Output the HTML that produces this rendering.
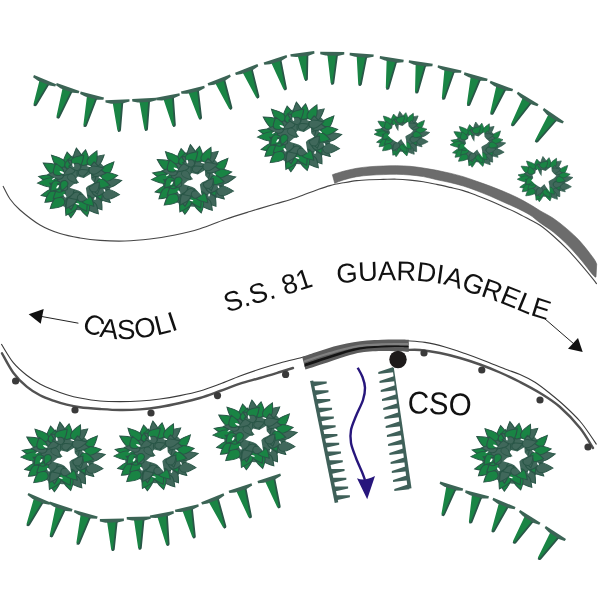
<!DOCTYPE html>
<html><head><meta charset="utf-8"><title>S.S. 81</title>
<style>html,body{margin:0;padding:0;background:#fff}svg{display:block;will-change:transform}</style></head>
<body>
<svg width="600" height="600" viewBox="0 0 600 600">
<rect width="600" height="600" fill="#fff"/>
<defs>
<g id="bb">
<circle r="30" fill="#40685b"/>
<path transform="translate(-19.68,-12.12) rotate(214.2)" d="M0,0 C2.20,-9.61 10.99,-4.54 18.31,0 C10.99,4.54 2.20,9.61 0,0Z" fill="#198444" stroke="#295647" stroke-width="1.0"/>
<path transform="translate(3.30,-19.71) rotate(278.5)" d="M0,0 C2.10,-8.57 10.51,-4.05 17.51,0 C10.51,4.05 2.10,8.57 0,0Z" fill="#198444" stroke="#295647" stroke-width="1.0"/>
<path transform="translate(9.98,-18.98) rotate(317.8)" d="M0,0 C2.23,-9.48 11.15,-4.48 18.58,0 C11.15,4.48 2.23,9.48 0,0Z" fill="#40685b" stroke="#295647" stroke-width="1.0"/>
<path transform="translate(-9.53,-16.33) rotate(262.5)" d="M0,0 C2.20,-9.67 11.01,-4.57 18.35,0 C11.01,4.57 2.20,9.67 0,0Z" fill="#198444" stroke="#295647" stroke-width="1.0"/>
<path transform="translate(-19.24,9.22) rotate(166.0)" d="M0,0 C2.17,-8.61 10.87,-4.07 18.11,0 C10.87,4.07 2.17,8.61 0,0Z" fill="#198444" stroke="#295647" stroke-width="1.0"/>
<path transform="translate(12.46,16.39) rotate(55.4)" d="M0,0 C1.93,-9.77 9.65,-4.62 16.08,0 C9.65,4.62 1.93,9.77 0,0Z" fill="#40685b" stroke="#295647" stroke-width="1.0"/>
<path transform="translate(17.08,9.39) rotate(43.9)" d="M0,0 C2.08,-8.31 10.40,-3.93 17.34,0 C10.40,3.93 2.08,8.31 0,0Z" fill="#40685b" stroke="#295647" stroke-width="1.0"/>
<path transform="translate(-8.03,20.47) rotate(90.9)" d="M0,0 C2.15,-9.88 10.76,-4.67 17.93,0 C10.76,4.67 2.15,9.88 0,0Z" fill="#198444" stroke="#295647" stroke-width="1.0"/>
<path transform="translate(8.20,21.43) rotate(52.0)" d="M0,0 C1.93,-8.74 9.65,-4.13 16.09,0 C9.65,4.13 1.93,8.74 0,0Z" fill="#40685b" stroke="#295647" stroke-width="1.0"/>
<path transform="translate(22.81,1.06) rotate(-13.2)" d="M0,0 C2.19,-8.86 10.97,-4.19 18.29,0 C10.97,4.19 2.19,8.86 0,0Z" fill="#40685b" stroke="#295647" stroke-width="1.0"/>
<path transform="translate(22.15,12.28) rotate(1.2)" d="M0,0 C1.95,-9.56 9.77,-4.52 16.28,0 C9.77,4.52 1.95,9.56 0,0Z" fill="#40685b" stroke="#295647" stroke-width="1.0"/>
<path transform="translate(-20.93,-2.90) rotate(194.2)" d="M0,0 C2.27,-8.65 11.37,-4.09 18.95,0 C11.37,4.09 2.27,8.65 0,0Z" fill="#198444" stroke="#295647" stroke-width="1.0"/>
<path transform="translate(-4.64,19.77) rotate(117.6)" d="M0,0 C2.18,-9.77 10.90,-4.62 18.16,0 C10.90,4.62 2.18,9.77 0,0Z" fill="#198444" stroke="#295647" stroke-width="1.0"/>
<path transform="translate(9.63,-19.55) rotate(293.5)" d="M0,0 C2.14,-7.90 10.70,-3.73 17.84,0 C10.70,3.73 2.14,7.90 0,0Z" fill="#198444" stroke="#295647" stroke-width="1.0"/>
<path transform="translate(-22.87,-1.22) rotate(176.3)" d="M0,0 C2.11,-8.85 10.54,-4.18 17.56,0 C10.54,4.18 2.11,8.85 0,0Z" fill="#198444" stroke="#295647" stroke-width="1.0"/>
<path transform="translate(-15.02,-18.13) rotate(227.8)" d="M0,0 C2.13,-8.39 10.64,-3.97 17.73,0 C10.64,3.97 2.13,8.39 0,0Z" fill="#198444" stroke="#295647" stroke-width="1.0"/>
<path transform="translate(-21.23,10.53) rotate(138.1)" d="M0,0 C1.93,-9.48 9.66,-4.48 16.10,0 C9.66,4.48 1.93,9.48 0,0Z" fill="#198444" stroke="#295647" stroke-width="1.0"/>
<path transform="translate(21.65,-9.80) rotate(309.3)" d="M0,0 C2.16,-7.87 10.81,-3.72 18.02,0 C10.81,3.72 2.16,7.87 0,0Z" fill="#198444" stroke="#295647" stroke-width="1.0"/>
<path transform="translate(20.60,-6.18) rotate(351.2)" d="M0,0 C1.96,-8.55 9.80,-4.04 16.33,0 C9.80,4.04 1.96,8.55 0,0Z" fill="#198444" stroke="#295647" stroke-width="1.0"/>
<path transform="translate(-0.85,-21.43) rotate(262.9)" d="M0,0 C2.12,-7.95 10.61,-3.76 17.68,0 C10.61,3.76 2.12,7.95 0,0Z" fill="#40685b" stroke="#295647" stroke-width="1.0"/>
<path transform="translate(-15.54,16.93) rotate(138.0)" d="M0,0 C2.03,-9.66 10.15,-4.57 16.91,0 C10.15,4.57 2.03,9.66 0,0Z" fill="#198444" stroke="#295647" stroke-width="1.0"/>
<path transform="translate(3.73,20.67) rotate(77.2)" d="M0,0 C2.00,-8.44 9.99,-3.99 16.66,0 C9.99,3.99 2.00,8.44 0,0Z" fill="#198444" stroke="#295647" stroke-width="1.0"/>
<path transform="translate(-9.22,15.43) rotate(85.5)" d="M0,0 C1.71,-7.44 8.55,-3.52 14.25,0 C8.55,3.52 1.71,7.44 0,0Z" fill="#40685b" stroke="#295647" stroke-width="1.1"/>
<path transform="translate(14.82,-10.59) rotate(266.5)" d="M0,0 C1.57,-9.21 7.87,-4.35 13.12,0 C7.87,4.35 1.57,9.21 0,0Z" fill="#40685b" stroke="#295647" stroke-width="1.1"/>
<path transform="translate(14.47,3.91) rotate(64.4)" d="M0,0 C1.91,-8.49 9.56,-4.01 15.93,0 C9.56,4.01 1.91,8.49 0,0Z" fill="#198444" stroke="#295647" stroke-width="1.1"/>
<path transform="translate(11.50,-12.76) rotate(367.9)" d="M0,0 C1.66,-8.59 8.28,-4.06 13.80,0 C8.28,4.06 1.66,8.59 0,0Z" fill="#40685b" stroke="#295647" stroke-width="1.1"/>
<path transform="translate(8.77,-13.43) rotate(346.5)" d="M0,0 C1.78,-8.20 8.91,-3.88 14.85,0 C8.91,3.88 1.78,8.20 0,0Z" fill="#40685b" stroke="#295647" stroke-width="1.1"/>
<path transform="translate(-14.77,7.10) rotate(135.9)" d="M0,0 C1.74,-8.14 8.72,-3.85 14.53,0 C8.72,3.85 1.74,8.14 0,0Z" fill="#198444" stroke="#295647" stroke-width="1.1"/>
<path transform="translate(-15.10,-8.48) rotate(185.1)" d="M0,0 C1.84,-7.86 9.21,-3.72 15.35,0 C9.21,3.72 1.84,7.86 0,0Z" fill="#40685b" stroke="#295647" stroke-width="1.1"/>
<path transform="translate(-4.91,14.56) rotate(120.1)" d="M0,0 C1.91,-7.78 9.53,-3.68 15.89,0 C9.53,3.68 1.91,7.78 0,0Z" fill="#40685b" stroke="#295647" stroke-width="1.1"/>
<path transform="translate(12.11,10.21) rotate(-13.0)" d="M0,0 C1.82,-8.88 9.09,-4.20 15.16,0 C9.09,4.20 1.82,8.88 0,0Z" fill="#40685b" stroke="#295647" stroke-width="1.1"/>
<path transform="translate(-19.04,-8.48) rotate(254.6)" d="M0,0 C1.68,-8.84 8.42,-4.18 14.03,0 C8.42,4.18 1.68,8.84 0,0Z" fill="#198444" stroke="#295647" stroke-width="1.1"/>
<path transform="translate(-15.38,8.27) rotate(212.0)" d="M0,0 C1.87,-7.46 9.37,-3.53 15.61,0 C9.37,3.53 1.87,7.46 0,0Z" fill="#198444" stroke="#295647" stroke-width="1.1"/>
<path transform="translate(-10.70,-15.58) rotate(283.8)" d="M0,0 C1.78,-8.18 8.88,-3.87 14.80,0 C8.88,3.87 1.78,8.18 0,0Z" fill="#198444" stroke="#295647" stroke-width="1.1"/>
<path transform="translate(-0.47,17.29) rotate(62.1)" d="M0,0 C1.88,-9.20 9.38,-4.35 15.63,0 C9.38,4.35 1.88,9.20 0,0Z" fill="#198444" stroke="#295647" stroke-width="1.1"/>
<path transform="translate(16.18,-0.65) rotate(13.2)" d="M0,0 C1.64,-9.11 8.18,-4.31 13.63,0 C8.18,4.31 1.64,9.11 0,0Z" fill="#198444" stroke="#295647" stroke-width="1.1"/>
<path transform="translate(1.25,-17.53) rotate(212.6)" d="M0,0 C1.82,-7.77 9.11,-3.68 15.18,0 C9.11,3.68 1.82,7.77 0,0Z" fill="#40685b" stroke="#295647" stroke-width="1.1"/>
<path transform="translate(3.75,14.68) rotate(47.5)" d="M0,0 C1.77,-8.73 8.84,-4.13 14.73,0 C8.84,4.13 1.77,8.73 0,0Z" fill="#198444" stroke="#295647" stroke-width="1.1"/>
<path transform="translate(-18.94,-1.37) rotate(130.4)" d="M0,0 C1.63,-8.80 8.15,-4.16 13.58,0 C8.15,4.16 1.63,8.80 0,0Z" fill="#198444" stroke="#295647" stroke-width="1.1"/>
<path transform="translate(-6.17,-20.39) rotate(313.8)" d="M0,0 C1.78,-9.25 8.89,-4.38 14.81,0 C8.89,4.38 1.78,9.25 0,0Z" fill="#198444" stroke="#295647" stroke-width="1.1"/>
<path transform="translate(14.95,-0.21) rotate(80.1)" d="M0,0 C1.52,-6.91 7.58,-3.27 12.63,0 C7.58,3.27 1.52,6.91 0,0Z" fill="#40685b" stroke="#295647" stroke-width="1.0"/>
<path transform="translate(-3.31,6.65) rotate(78.5)" d="M0,0 C1.46,-5.91 7.30,-2.79 12.17,0 C7.30,2.79 1.46,5.91 0,0Z" fill="#40685b" stroke="#295647" stroke-width="1.0"/>
<path transform="translate(-11.73,6.88) rotate(213.8)" d="M0,0 C1.35,-5.96 6.76,-2.82 11.27,0 C6.76,2.82 1.35,5.96 0,0Z" fill="#40685b" stroke="#295647" stroke-width="1.0"/>
<path transform="translate(2.75,-5.31) rotate(251.4)" d="M0,0 C1.61,-6.33 8.05,-2.99 13.42,0 C8.05,2.99 1.61,6.33 0,0Z" fill="#40685b" stroke="#295647" stroke-width="1.0"/>
<path transform="translate(-4.79,-16.74) rotate(143.8)" d="M0,0 C1.67,-6.16 8.34,-2.91 13.90,0 C8.34,2.91 1.67,6.16 0,0Z" fill="#40685b" stroke="#295647" stroke-width="1.0"/>
<path transform="translate(1.20,-17.85) rotate(185.1)" d="M0,0 C1.41,-7.04 7.04,-3.33 11.74,0 C7.04,3.33 1.41,7.04 0,0Z" fill="#40685b" stroke="#295647" stroke-width="1.0"/>
<path transform="translate(11.14,8.89) rotate(-51.8)" d="M0,0 C1.57,-7.52 7.83,-3.55 13.04,0 C7.83,3.55 1.57,7.52 0,0Z" fill="#40685b" stroke="#295647" stroke-width="1.0"/>
<path transform="translate(1.13,12.69) rotate(161.1)" d="M0,0 C1.41,-7.38 7.05,-3.49 11.75,0 C7.05,3.49 1.41,7.38 0,0Z" fill="#40685b" stroke="#295647" stroke-width="1.0"/>
<path transform="translate(-13.31,-2.98) rotate(110.1)" d="M0,0 C1.45,-6.20 7.24,-2.93 12.07,0 C7.24,2.93 1.45,6.20 0,0Z" fill="#198444" stroke="#295647" stroke-width="1.0"/>
<path transform="translate(-0.96,-10.23) rotate(337.9)" d="M0,0 C1.32,-6.52 6.62,-3.08 11.03,0 C6.62,3.08 1.32,6.52 0,0Z" fill="#40685b" stroke="#295647" stroke-width="1.0"/>
<path transform="translate(7.16,2.59) rotate(310.2)" d="M0,0 C1.60,-6.83 8.00,-3.23 13.33,0 C8.00,3.23 1.60,6.83 0,0Z" fill="#40685b" stroke="#295647" stroke-width="1.0"/>
<path transform="translate(-2.20,17.01) rotate(-8.4)" d="M0,0 C1.43,-7.40 7.17,-3.50 11.95,0 C7.17,3.50 1.43,7.40 0,0Z" fill="#40685b" stroke="#295647" stroke-width="1.0"/>
<polygon transform="translate(2.6,3) scale(0.9) translate(-2.6,-3)" points="-2.2,-8.6 4.3,-6.9 11.8,-11.9 12.3,-5.3 15.6,-0.8 8.7,3.1 6.5,5.6 8.4,19.2 1.4,10.6 -1.4,8.6 -10.8,5.2 -6.5,0.9 -0.7,-0.8 -4.0,-5.8" fill="#fff"/>
<path transform="translate(-10.5,-9.5) rotate(50)" d="M0,0 C1.50,-6.19 7.50,-2.93 12.50,0 C7.50,2.93 1.50,6.19 0,0Z" fill="#40685b" stroke="#295647" stroke-width="0.8"/>
<ellipse cx="-17.0" cy="-12.0" rx="2.4" ry="1.0" transform="rotate(30 -17.0 -12.0)" fill="#fff"/>
<ellipse cx="-6.0" cy="-20.0" rx="2.1" ry="0.9" transform="rotate(80 -6.0 -20.0)" fill="#fff"/>
<ellipse cx="9.0" cy="-19.0" rx="1.9" ry="0.8" transform="rotate(10 9.0 -19.0)" fill="#fff"/>
<ellipse cx="-21.0" cy="4.0" rx="2.1" ry="0.9" transform="rotate(120 -21.0 4.0)" fill="#fff"/>
<ellipse cx="-14.0" cy="14.0" rx="2.2" ry="1.0" transform="rotate(60 -14.0 14.0)" fill="#fff"/>
<ellipse cx="20.0" cy="-6.0" rx="1.9" ry="0.8" transform="rotate(40 20.0 -6.0)" fill="#fff"/>
<ellipse cx="15.0" cy="17.0" rx="1.8" ry="0.8" transform="rotate(100 15.0 17.0)" fill="#fff"/>
<ellipse cx="-2.0" cy="23.0" rx="1.9" ry="0.8" transform="rotate(20 -2.0 23.0)" fill="#fff"/>
<ellipse cx="24.0" cy="8.0" rx="1.6" ry="0.7" transform="rotate(70 24.0 8.0)" fill="#fff"/>
<ellipse cx="-25.0" cy="-5.0" rx="1.6" ry="0.7" transform="rotate(150 -25.0 -5.0)" fill="#fff"/>
</g>
<g id="bs">
<circle r="30" fill="#40685b"/>
<path transform="translate(-19.68,-12.12) rotate(214.2)" d="M0,0 C2.20,-9.61 10.99,-4.54 18.31,0 C10.99,4.54 2.20,9.61 0,0Z" fill="#198444" stroke="#295647" stroke-width="1.0"/>
<path transform="translate(3.30,-19.71) rotate(278.5)" d="M0,0 C2.10,-8.57 10.51,-4.05 17.51,0 C10.51,4.05 2.10,8.57 0,0Z" fill="#198444" stroke="#295647" stroke-width="1.0"/>
<path transform="translate(9.98,-18.98) rotate(317.8)" d="M0,0 C2.23,-9.48 11.15,-4.48 18.58,0 C11.15,4.48 2.23,9.48 0,0Z" fill="#40685b" stroke="#295647" stroke-width="1.0"/>
<path transform="translate(-9.53,-16.33) rotate(262.5)" d="M0,0 C2.20,-9.67 11.01,-4.57 18.35,0 C11.01,4.57 2.20,9.67 0,0Z" fill="#198444" stroke="#295647" stroke-width="1.0"/>
<path transform="translate(-19.24,9.22) rotate(166.0)" d="M0,0 C2.17,-8.61 10.87,-4.07 18.11,0 C10.87,4.07 2.17,8.61 0,0Z" fill="#198444" stroke="#295647" stroke-width="1.0"/>
<path transform="translate(12.46,16.39) rotate(55.4)" d="M0,0 C1.93,-9.77 9.65,-4.62 16.08,0 C9.65,4.62 1.93,9.77 0,0Z" fill="#40685b" stroke="#295647" stroke-width="1.0"/>
<path transform="translate(17.08,9.39) rotate(43.9)" d="M0,0 C2.08,-8.31 10.40,-3.93 17.34,0 C10.40,3.93 2.08,8.31 0,0Z" fill="#40685b" stroke="#295647" stroke-width="1.0"/>
<path transform="translate(-8.03,20.47) rotate(90.9)" d="M0,0 C2.15,-9.88 10.76,-4.67 17.93,0 C10.76,4.67 2.15,9.88 0,0Z" fill="#198444" stroke="#295647" stroke-width="1.0"/>
<path transform="translate(8.20,21.43) rotate(52.0)" d="M0,0 C1.93,-8.74 9.65,-4.13 16.09,0 C9.65,4.13 1.93,8.74 0,0Z" fill="#40685b" stroke="#295647" stroke-width="1.0"/>
<path transform="translate(22.81,1.06) rotate(-13.2)" d="M0,0 C2.19,-8.86 10.97,-4.19 18.29,0 C10.97,4.19 2.19,8.86 0,0Z" fill="#40685b" stroke="#295647" stroke-width="1.0"/>
<path transform="translate(22.15,12.28) rotate(1.2)" d="M0,0 C1.95,-9.56 9.77,-4.52 16.28,0 C9.77,4.52 1.95,9.56 0,0Z" fill="#40685b" stroke="#295647" stroke-width="1.0"/>
<path transform="translate(-20.93,-2.90) rotate(194.2)" d="M0,0 C2.27,-8.65 11.37,-4.09 18.95,0 C11.37,4.09 2.27,8.65 0,0Z" fill="#198444" stroke="#295647" stroke-width="1.0"/>
<path transform="translate(-4.64,19.77) rotate(117.6)" d="M0,0 C2.18,-9.77 10.90,-4.62 18.16,0 C10.90,4.62 2.18,9.77 0,0Z" fill="#198444" stroke="#295647" stroke-width="1.0"/>
<path transform="translate(9.63,-19.55) rotate(293.5)" d="M0,0 C2.14,-7.90 10.70,-3.73 17.84,0 C10.70,3.73 2.14,7.90 0,0Z" fill="#198444" stroke="#295647" stroke-width="1.0"/>
<path transform="translate(-22.87,-1.22) rotate(176.3)" d="M0,0 C2.11,-8.85 10.54,-4.18 17.56,0 C10.54,4.18 2.11,8.85 0,0Z" fill="#198444" stroke="#295647" stroke-width="1.0"/>
<path transform="translate(-15.02,-18.13) rotate(227.8)" d="M0,0 C2.13,-8.39 10.64,-3.97 17.73,0 C10.64,3.97 2.13,8.39 0,0Z" fill="#198444" stroke="#295647" stroke-width="1.0"/>
<path transform="translate(-21.23,10.53) rotate(138.1)" d="M0,0 C1.93,-9.48 9.66,-4.48 16.10,0 C9.66,4.48 1.93,9.48 0,0Z" fill="#198444" stroke="#295647" stroke-width="1.0"/>
<path transform="translate(21.65,-9.80) rotate(309.3)" d="M0,0 C2.16,-7.87 10.81,-3.72 18.02,0 C10.81,3.72 2.16,7.87 0,0Z" fill="#198444" stroke="#295647" stroke-width="1.0"/>
<path transform="translate(20.60,-6.18) rotate(351.2)" d="M0,0 C1.96,-8.55 9.80,-4.04 16.33,0 C9.80,4.04 1.96,8.55 0,0Z" fill="#198444" stroke="#295647" stroke-width="1.0"/>
<path transform="translate(-0.85,-21.43) rotate(262.9)" d="M0,0 C2.12,-7.95 10.61,-3.76 17.68,0 C10.61,3.76 2.12,7.95 0,0Z" fill="#40685b" stroke="#295647" stroke-width="1.0"/>
<path transform="translate(-15.54,16.93) rotate(138.0)" d="M0,0 C2.03,-9.66 10.15,-4.57 16.91,0 C10.15,4.57 2.03,9.66 0,0Z" fill="#198444" stroke="#295647" stroke-width="1.0"/>
<path transform="translate(3.73,20.67) rotate(77.2)" d="M0,0 C2.00,-8.44 9.99,-3.99 16.66,0 C9.99,3.99 2.00,8.44 0,0Z" fill="#198444" stroke="#295647" stroke-width="1.0"/>
<path transform="translate(-9.22,15.43) rotate(85.5)" d="M0,0 C1.71,-7.44 8.55,-3.52 14.25,0 C8.55,3.52 1.71,7.44 0,0Z" fill="#40685b" stroke="#295647" stroke-width="1.1"/>
<path transform="translate(14.82,-10.59) rotate(266.5)" d="M0,0 C1.57,-9.21 7.87,-4.35 13.12,0 C7.87,4.35 1.57,9.21 0,0Z" fill="#40685b" stroke="#295647" stroke-width="1.1"/>
<path transform="translate(14.47,3.91) rotate(64.4)" d="M0,0 C1.91,-8.49 9.56,-4.01 15.93,0 C9.56,4.01 1.91,8.49 0,0Z" fill="#198444" stroke="#295647" stroke-width="1.1"/>
<path transform="translate(11.50,-12.76) rotate(367.9)" d="M0,0 C1.66,-8.59 8.28,-4.06 13.80,0 C8.28,4.06 1.66,8.59 0,0Z" fill="#40685b" stroke="#295647" stroke-width="1.1"/>
<path transform="translate(8.77,-13.43) rotate(346.5)" d="M0,0 C1.78,-8.20 8.91,-3.88 14.85,0 C8.91,3.88 1.78,8.20 0,0Z" fill="#40685b" stroke="#295647" stroke-width="1.1"/>
<path transform="translate(-14.77,7.10) rotate(135.9)" d="M0,0 C1.74,-8.14 8.72,-3.85 14.53,0 C8.72,3.85 1.74,8.14 0,0Z" fill="#198444" stroke="#295647" stroke-width="1.1"/>
<path transform="translate(-15.10,-8.48) rotate(185.1)" d="M0,0 C1.84,-7.86 9.21,-3.72 15.35,0 C9.21,3.72 1.84,7.86 0,0Z" fill="#40685b" stroke="#295647" stroke-width="1.1"/>
<path transform="translate(-4.91,14.56) rotate(120.1)" d="M0,0 C1.91,-7.78 9.53,-3.68 15.89,0 C9.53,3.68 1.91,7.78 0,0Z" fill="#40685b" stroke="#295647" stroke-width="1.1"/>
<path transform="translate(12.11,10.21) rotate(-13.0)" d="M0,0 C1.82,-8.88 9.09,-4.20 15.16,0 C9.09,4.20 1.82,8.88 0,0Z" fill="#40685b" stroke="#295647" stroke-width="1.1"/>
<path transform="translate(-19.04,-8.48) rotate(254.6)" d="M0,0 C1.68,-8.84 8.42,-4.18 14.03,0 C8.42,4.18 1.68,8.84 0,0Z" fill="#198444" stroke="#295647" stroke-width="1.1"/>
<path transform="translate(-15.38,8.27) rotate(212.0)" d="M0,0 C1.87,-7.46 9.37,-3.53 15.61,0 C9.37,3.53 1.87,7.46 0,0Z" fill="#198444" stroke="#295647" stroke-width="1.1"/>
<path transform="translate(-10.70,-15.58) rotate(283.8)" d="M0,0 C1.78,-8.18 8.88,-3.87 14.80,0 C8.88,3.87 1.78,8.18 0,0Z" fill="#198444" stroke="#295647" stroke-width="1.1"/>
<path transform="translate(-0.47,17.29) rotate(62.1)" d="M0,0 C1.88,-9.20 9.38,-4.35 15.63,0 C9.38,4.35 1.88,9.20 0,0Z" fill="#198444" stroke="#295647" stroke-width="1.1"/>
<path transform="translate(16.18,-0.65) rotate(13.2)" d="M0,0 C1.64,-9.11 8.18,-4.31 13.63,0 C8.18,4.31 1.64,9.11 0,0Z" fill="#198444" stroke="#295647" stroke-width="1.1"/>
<path transform="translate(1.25,-17.53) rotate(212.6)" d="M0,0 C1.82,-7.77 9.11,-3.68 15.18,0 C9.11,3.68 1.82,7.77 0,0Z" fill="#40685b" stroke="#295647" stroke-width="1.1"/>
<path transform="translate(3.75,14.68) rotate(47.5)" d="M0,0 C1.77,-8.73 8.84,-4.13 14.73,0 C8.84,4.13 1.77,8.73 0,0Z" fill="#198444" stroke="#295647" stroke-width="1.1"/>
<path transform="translate(-18.94,-1.37) rotate(130.4)" d="M0,0 C1.63,-8.80 8.15,-4.16 13.58,0 C8.15,4.16 1.63,8.80 0,0Z" fill="#198444" stroke="#295647" stroke-width="1.1"/>
<path transform="translate(-6.17,-20.39) rotate(313.8)" d="M0,0 C1.78,-9.25 8.89,-4.38 14.81,0 C8.89,4.38 1.78,9.25 0,0Z" fill="#198444" stroke="#295647" stroke-width="1.1"/>
<polygon transform="scale(0.9)" points="-5.0,-18.3 1.0,-16.0 7.0,-21.5 10.4,-23.8 11.0,-15.2 13.7,-11.3 18.4,-6.6 14.4,-1.9 7.7,2.1 5.7,4.4 7.0,11.5 7.7,24.0 1.0,13.0 -1.0,9.1 -7.0,15.4 -10.3,13.8 -16.4,9.1 -22.4,2.1 -19.0,-2.6 -20.4,-8.1 -15.7,-11.3 -15.0,-16.8 -11.7,-19.1 -9.0,-11.3 -5.7,-5.8" fill="#fff"/>
</g>
</defs>
<path d="M3.00,186.00 C4.17,188.17 7.17,195.00 10.00,199.00 C12.83,203.00 15.00,205.67 20.00,210.00 C25.00,214.33 33.33,221.07 40.00,225.00 C46.67,228.93 53.33,231.43 60.00,233.60 C66.67,235.77 73.33,236.87 80.00,238.00 C86.67,239.13 92.50,239.90 100.00,240.40 C107.50,240.90 116.67,241.23 125.00,241.00 C133.33,240.77 141.67,240.00 150.00,239.00 C158.33,238.00 166.67,236.71 175.00,235.00 C183.33,233.29 191.67,231.33 200.00,228.75 C208.33,226.17 216.67,222.38 225.00,219.50 C233.33,216.62 241.67,214.08 250.00,211.50 C258.33,208.92 268.33,205.97 275.00,204.00 C281.67,202.03 285.28,201.20 290.00,199.70 C294.72,198.20 298.85,196.62 303.30,195.00 C307.75,193.38 312.25,191.57 316.70,190.00 C321.15,188.43 325.57,186.80 330.00,185.60 C334.43,184.40 338.85,183.63 343.30,182.80 C347.75,181.97 352.25,181.12 356.70,180.60 C361.15,180.08 365.57,179.90 370.00,179.70 C374.43,179.50 378.85,179.48 383.30,179.40 C387.75,179.32 392.25,179.08 396.70,179.20 C401.15,179.32 405.57,179.67 410.00,180.10 C414.43,180.53 418.85,181.08 423.30,181.80 C427.75,182.52 432.25,183.47 436.70,184.40 C441.15,185.33 445.57,186.37 450.00,187.40 C454.43,188.43 458.85,189.27 463.30,190.60 C467.75,191.93 472.25,193.72 476.70,195.40 C481.15,197.08 485.57,198.82 490.00,200.70 C494.43,202.58 498.85,204.70 503.30,206.70 C507.75,208.70 512.25,210.52 516.70,212.70 C521.15,214.88 526.12,217.70 530.00,219.80 C533.88,221.90 536.12,222.60 540.00,225.30 C543.88,228.00 548.85,232.10 553.30,236.00 C557.75,239.90 562.25,244.15 566.70,248.70 C571.15,253.25 575.57,258.20 580.00,263.30 C584.43,268.40 590.52,275.85 593.30,279.30 C596.08,282.75 596.13,283.22 596.70,284.00" fill="none" stroke="#464646" stroke-width="1.1"/>
<path d="M332.40,174.70 C334.22,174.13 339.25,172.37 343.30,171.30 C347.35,170.23 352.25,169.07 356.70,168.30 C361.15,167.53 365.57,167.08 370.00,166.70 C374.43,166.32 378.85,166.17 383.30,166.00 C387.75,165.83 392.25,165.65 396.70,165.70 C401.15,165.75 405.57,165.92 410.00,166.30 C414.43,166.68 418.85,167.33 423.30,168.00 C427.75,168.67 432.25,169.43 436.70,170.30 C441.15,171.17 445.57,172.13 450.00,173.20 C454.43,174.27 458.85,175.35 463.30,176.70 C467.75,178.05 472.25,179.75 476.70,181.30 C481.15,182.85 485.57,184.33 490.00,186.00 C494.43,187.67 498.85,189.42 503.30,191.30 C507.75,193.18 512.25,195.10 516.70,197.30 C521.15,199.50 526.12,202.27 530.00,204.50 C533.88,206.73 536.12,208.40 540.00,210.70 C543.88,213.00 548.85,215.30 553.30,218.30 C557.75,221.30 562.25,224.87 566.70,228.70 C571.15,232.53 575.57,236.42 580.00,241.30 C584.43,246.18 590.52,254.22 593.30,258.00 C596.08,261.78 596.13,263.00 596.70,264.00 L596.00,277.00 C595.55,276.72 595.97,278.35 593.30,275.30 C590.63,272.25 584.43,263.92 580.00,258.70 C575.57,253.48 571.15,248.45 566.70,244.00 C562.25,239.55 557.75,235.55 553.30,232.00 C548.85,228.45 543.88,225.53 540.00,222.70 C536.12,219.87 533.88,217.45 530.00,215.00 C526.12,212.55 521.15,210.17 516.70,208.00 C512.25,205.83 507.75,204.00 503.30,202.00 C498.85,200.00 494.43,197.88 490.00,196.00 C485.57,194.12 481.15,192.37 476.70,190.70 C472.25,189.03 467.75,187.37 463.30,186.00 C458.85,184.63 454.43,183.55 450.00,182.50 C445.57,181.45 441.15,180.68 436.70,179.70 C432.25,178.72 427.75,177.38 423.30,176.60 C418.85,175.82 414.43,175.38 410.00,175.00 C405.57,174.62 401.15,174.37 396.70,174.30 C392.25,174.23 387.75,174.45 383.30,174.60 C378.85,174.75 374.43,174.85 370.00,175.20 C365.57,175.55 361.15,175.90 356.70,176.70 C352.25,177.50 346.97,178.90 343.30,180.00 C339.63,181.10 336.13,182.75 334.70,183.30Z" fill="#6c6c6c" stroke="#5e5e5e" stroke-width="0.6"/>
<path d="M1.30,344.00 C3.30,347.12 9.07,357.48 13.30,362.70 C17.53,367.92 22.25,371.75 26.70,375.30 C31.15,378.85 35.57,381.55 40.00,384.00 C44.43,386.45 48.85,388.22 53.30,390.00 C57.75,391.78 62.25,393.37 66.70,394.70 C71.15,396.03 74.45,396.95 80.00,398.00 C85.55,399.05 93.33,400.40 100.00,401.00 C106.67,401.60 113.33,401.60 120.00,401.60 C126.67,401.60 133.33,401.43 140.00,401.00 C146.67,400.57 153.33,399.90 160.00,399.00 C166.67,398.10 173.33,396.93 180.00,395.60 C186.67,394.27 193.33,392.93 200.00,391.00 C206.67,389.07 213.33,386.50 220.00,384.00 C226.67,381.50 233.33,378.50 240.00,376.00 C246.67,373.50 253.33,371.17 260.00,369.00 C266.67,366.83 273.33,364.83 280.00,363.00 C286.67,361.17 295.83,359.08 300.00,358.00 C304.17,356.92 304.17,356.75 305.00,356.50" fill="none" stroke="#3a3a3a" stroke-width="1.1"/>
<path d="M2.00,353.30 C3.88,356.53 9.18,367.13 13.30,372.70 C17.42,378.27 22.25,382.93 26.70,386.70 C31.15,390.47 35.57,392.97 40.00,395.30 C44.43,397.63 48.85,399.13 53.30,400.70 C57.75,402.27 62.25,403.60 66.70,404.70 C71.15,405.80 74.45,406.58 80.00,407.30 C85.55,408.02 93.33,408.55 100.00,409.00 C106.67,409.45 113.33,409.93 120.00,410.00 C126.67,410.07 133.33,409.90 140.00,409.40 C146.67,408.90 153.33,408.07 160.00,407.00 C166.67,405.93 173.33,404.50 180.00,403.00 C186.67,401.50 193.33,400.00 200.00,398.00 C206.67,396.00 213.33,393.40 220.00,391.00 C226.67,388.60 233.33,385.77 240.00,383.60 C246.67,381.43 253.33,379.93 260.00,378.00 C266.67,376.07 274.50,373.67 280.00,372.00 C285.50,370.33 290.83,368.67 293.00,368.00" fill="none" stroke="#525252" stroke-width="2.4" stroke-linecap="round"/>
<path d="M407.00,340.80 C410.00,341.07 418.67,341.37 425.00,342.40 C431.33,343.43 438.33,345.13 445.00,347.00 C451.67,348.87 458.33,351.27 465.00,353.60 C471.67,355.93 478.33,358.43 485.00,361.00 C491.67,363.57 499.17,366.75 505.00,369.00 C510.83,371.25 515.00,372.29 520.00,374.50 C525.00,376.71 530.00,379.08 535.00,382.25 C540.00,385.42 545.00,389.50 550.00,393.50 C555.00,397.50 560.00,401.62 565.00,406.25 C570.00,410.88 575.75,416.38 580.00,421.25 C584.25,426.12 587.75,431.62 590.50,435.50 C593.25,439.38 595.50,443.00 596.50,444.50" fill="none" stroke="#3a3a3a" stroke-width="1.1"/>
<path d="M407.00,350.00 C409.17,350.00 414.50,349.50 420.00,350.00 C425.50,350.50 433.33,351.67 440.00,353.00 C446.67,354.33 453.33,356.08 460.00,358.00 C466.67,359.92 473.33,362.08 480.00,364.50 C486.67,366.92 493.33,369.58 500.00,372.50 C506.67,375.42 513.33,378.58 520.00,382.00 C526.67,385.42 533.33,388.83 540.00,393.00 C546.67,397.17 553.33,401.17 560.00,407.00 C566.67,412.83 574.50,421.17 580.00,428.00 C585.50,434.83 590.83,444.67 593.00,448.00" fill="none" stroke="#525252" stroke-width="2.4" stroke-linecap="round"/>
<circle cx="15.6" cy="381.0" r="3.6" fill="#3a3a3a"/>
<circle cx="75.0" cy="410.0" r="3.6" fill="#3a3a3a"/>
<circle cx="151.0" cy="413.0" r="3.6" fill="#3a3a3a"/>
<circle cx="217.5" cy="395.6" r="3.6" fill="#3a3a3a"/>
<circle cx="285.6" cy="374.4" r="3.6" fill="#3a3a3a"/>
<circle cx="424.0" cy="353.0" r="3.6" fill="#3a3a3a"/>
<circle cx="481.8" cy="370.0" r="3.6" fill="#3a3a3a"/>
<circle cx="540.0" cy="400.0" r="3.6" fill="#3a3a3a"/>
<circle cx="588.0" cy="447.0" r="3.6" fill="#3a3a3a"/>
<path d="M302.20,357.00 C304.33,356.25 310.78,353.93 315.00,352.50 C319.22,351.07 323.33,349.65 327.50,348.40 C331.67,347.15 335.67,346.03 340.00,345.00 C344.33,343.97 349.00,342.93 353.50,342.20 C358.00,341.47 362.30,341.00 367.00,340.60 C371.70,340.20 377.03,339.97 381.70,339.80 C386.37,339.63 390.48,339.60 395.00,339.60 C399.52,339.60 406.50,339.77 408.80,339.80 L408.80,351.70 C406.50,351.62 399.52,351.32 395.00,351.20 C390.48,351.08 385.87,350.95 381.70,351.00 C377.53,351.05 373.98,351.17 370.00,351.50 C366.02,351.83 362.47,352.00 357.80,353.00 C353.13,354.00 347.05,355.92 342.00,357.50 C336.95,359.08 332.00,361.00 327.50,362.50 C323.00,364.00 318.68,365.33 315.00,366.50 C311.32,367.67 307.00,369.00 305.40,369.50Z" fill="#5c5c5c"/>
<path d="M304.00,361.50 C305.83,360.87 311.08,358.98 315.00,357.70 C318.92,356.42 323.33,355.05 327.50,353.80 C331.67,352.55 335.67,351.33 340.00,350.20 C344.33,349.07 349.00,347.83 353.50,347.00 C358.00,346.17 362.30,345.65 367.00,345.20 C371.70,344.75 377.03,344.50 381.70,344.30 C386.37,344.10 390.62,344.02 395.00,344.00 C399.38,343.98 405.83,344.17 408.00,344.20" fill="none" stroke="#808080" stroke-width="2.2"/>
<path d="M304.60,363.75 C306.33,363.18 311.18,361.59 315.00,360.35 C318.82,359.11 323.33,357.65 327.50,356.30 C331.67,354.95 335.67,353.53 340.00,352.25 C344.33,350.97 349.00,349.54 353.50,348.60 C358.00,347.66 362.30,347.08 367.00,346.60 C371.70,346.12 377.03,345.92 381.70,345.75 C386.37,345.58 390.53,345.56 395.00,345.60 C399.47,345.64 406.25,345.93 408.50,346.00 L408.50,347.20 C406.25,347.17 399.47,346.96 395.00,347.00 C390.53,347.04 386.37,347.18 381.70,347.45 C377.03,347.72 371.70,348.01 367.00,348.60 C362.30,349.19 358.00,349.94 353.50,351.00 C349.00,352.06 344.33,353.60 340.00,354.95 C335.67,356.30 331.67,357.72 327.50,359.10 C323.33,360.48 318.82,361.99 315.00,363.25 C311.18,364.51 306.33,366.08 304.60,366.65Z" fill="#141414"/>
<circle cx="398" cy="359.5" r="8.7" fill="#1e1b1b"/>
<polygon points="313.21,380.44 310.07,381.08 334.73,503.05 338.26,502.33" fill="#3f6059"/>
<polygon points="312.20,381.50 326.70,381.50 326.70,383.50 312.20,386.70" fill="#3f6059"/>
<polygon points="313.98,390.25 328.48,390.25 328.48,392.25 313.98,395.45" fill="#3f6059"/>
<polygon points="315.77,399.01 330.27,399.01 330.27,401.01 315.77,404.21" fill="#3f6059"/>
<polygon points="317.55,407.76 332.05,407.76 332.05,409.76 317.55,412.96" fill="#3f6059"/>
<polygon points="319.34,416.52 333.84,416.52 333.84,418.52 319.34,421.72" fill="#3f6059"/>
<polygon points="321.12,425.27 335.62,425.27 335.62,427.27 321.12,430.47" fill="#3f6059"/>
<polygon points="322.91,434.02 337.41,434.02 337.41,436.02 322.91,439.22" fill="#3f6059"/>
<polygon points="324.69,442.78 339.19,442.78 339.19,444.78 324.69,447.98" fill="#3f6059"/>
<polygon points="326.48,451.53 340.98,451.53 340.98,453.53 326.48,456.73" fill="#3f6059"/>
<polygon points="328.26,460.28 342.76,460.28 342.76,462.28 328.26,465.48" fill="#3f6059"/>
<polygon points="330.05,469.04 344.55,469.04 344.55,471.04 330.05,474.24" fill="#3f6059"/>
<polygon points="331.83,477.79 346.33,477.79 346.33,479.79 331.83,482.99" fill="#3f6059"/>
<polygon points="333.62,486.55 348.12,486.55 348.12,488.55 333.62,491.75" fill="#3f6059"/>
<polygon points="335.40,495.30 349.90,495.30 349.90,497.30 335.40,500.50" fill="#3f6059"/>
<polygon points="393.86,367.91 392.47,368.10 407.76,488.73 411.52,488.22" fill="#3f6059"/>
<polygon points="393.30,367.00 378.30,372.00 378.30,374.00 393.30,372.20" fill="#3f6059"/>
<polygon points="394.53,376.00 379.53,381.00 379.53,383.00 394.53,381.20" fill="#3f6059"/>
<polygon points="395.76,385.00 380.76,390.00 380.76,392.00 395.76,390.20" fill="#3f6059"/>
<polygon points="396.99,394.00 381.99,399.00 381.99,401.00 396.99,399.20" fill="#3f6059"/>
<polygon points="398.22,403.00 383.22,408.00 383.22,410.00 398.22,408.20" fill="#3f6059"/>
<polygon points="399.45,412.00 384.45,417.00 384.45,419.00 399.45,417.20" fill="#3f6059"/>
<polygon points="400.68,421.00 385.68,426.00 385.68,428.00 400.68,426.20" fill="#3f6059"/>
<polygon points="401.92,430.00 386.92,435.00 386.92,437.00 401.92,435.20" fill="#3f6059"/>
<polygon points="403.15,439.00 388.15,444.00 388.15,446.00 403.15,444.20" fill="#3f6059"/>
<polygon points="404.38,448.00 389.38,453.00 389.38,455.00 404.38,453.20" fill="#3f6059"/>
<polygon points="405.61,457.00 390.61,462.00 390.61,464.00 405.61,462.20" fill="#3f6059"/>
<polygon points="406.84,466.00 391.84,471.00 391.84,473.00 406.84,471.20" fill="#3f6059"/>
<polygon points="408.07,475.00 393.07,480.00 393.07,482.00 408.07,480.20" fill="#3f6059"/>
<polygon points="409.30,484.00 394.30,489.00 394.30,491.00 409.30,489.20" fill="#3f6059"/>
<path d="M357.70,367.80 C358.50,369.33 361.28,373.68 362.50,377.00 C363.72,380.32 364.92,383.87 365.00,387.70 C365.08,391.53 364.50,395.28 363.00,400.00 C361.50,404.72 358.00,411.00 356.00,416.00 C354.00,421.00 351.83,425.50 351.00,430.00 C350.17,434.50 350.17,438.33 351.00,443.00 C351.83,447.67 354.17,453.17 356.00,458.00 C357.83,462.83 360.50,468.33 362.00,472.00 C363.50,475.67 364.50,478.67 365.00,480.00" fill="none" stroke="#27167c" stroke-width="2.4"/>
<path d="M357,478.3 Q364.5,481.5 375,476 L367.2,499.3 Z" fill="#27167c"/>
<line x1="78.4" y1="323.2" x2="40" y2="316.2" stroke="#222" stroke-width="1"/>
<polygon points="28.7,314.3 43.7,309 40.7,323.7" fill="#111"/>
<line x1="544.7" y1="318.7" x2="574" y2="344" stroke="#222" stroke-width="1"/>
<polygon points="582.7,352 568,348.7 578,338" fill="#111"/>
<path id="pc" d="M78.00,325.00 C80.00,326.42 85.50,331.42 90.00,333.50 C94.50,335.58 99.67,336.58 105.00,337.50 C110.33,338.42 116.17,338.92 122.00,339.00 C127.83,339.08 134.00,338.67 140.00,338.00 C146.00,337.33 152.67,336.08 158.00,335.00 C163.33,333.92 167.50,332.83 172.00,331.50 C176.50,330.17 182.83,327.75 185.00,327.00" fill="none"/>
<path id="ps" d="M222.00,314.50 C225.00,313.50 233.67,310.50 240.00,308.50 C246.33,306.50 253.33,304.45 260.00,302.50 C266.67,300.55 273.33,298.78 280.00,296.80 C286.67,294.82 293.33,292.73 300.00,290.60 C306.67,288.47 316.67,285.10 320.00,284.00" fill="none"/>
<path id="pg" d="M330.00,284.50 C331.17,284.33 332.33,284.00 337.00,283.50 C341.67,283.00 351.17,281.98 358.00,281.50 C364.83,281.02 371.17,280.80 378.00,280.60 C384.83,280.40 392.17,280.23 399.00,280.30 C405.83,280.37 412.83,280.55 419.00,281.00 C425.17,281.45 431.83,282.42 436.00,283.00 C440.17,283.58 439.55,283.33 444.00,284.50 C448.45,285.67 457.87,288.45 462.70,290.00 C467.53,291.55 469.28,292.55 473.00,293.80 C476.72,295.05 480.50,296.00 485.00,297.50 C489.50,299.00 495.00,300.93 500.00,302.80 C505.00,304.67 510.17,306.78 515.00,308.70 C519.83,310.62 524.00,312.50 529.00,314.30 C534.00,316.10 539.83,317.88 545.00,319.50 C550.17,321.12 557.50,323.25 560.00,324.00" fill="none"/>
<text style="font-family:'Liberation Sans',sans-serif;fill:#111;font-size:27.6px"><textPath href="#pc" startOffset="4.3">CASOLI</textPath></text>
<text style="font-family:'Liberation Sans',sans-serif;fill:#111;font-size:27.6px"><textPath href="#ps" startOffset="5.5">S.S. <tspan dx="0.5">81</tspan></textPath></text>
<text style="font-family:'Liberation Sans',sans-serif;fill:#111;font-size:27.2px"><textPath href="#pg" startOffset="7.4">GUARDIAGRELE</textPath></text>
<text transform="translate(407.3,412.9) rotate(2.6) scale(1,1.065)" style="font-family:'Liberation Sans',sans-serif;fill:#111;font-size:29.5px">CSO</text>
<path d="M49.38,83.87 L47.89,85.09 L36.05,104.78 L35.24,105.31 L33.76,104.69 L33.56,103.74 L39.22,81.47 L39.04,79.56Z" fill="#198444"/>
<path d="M49.38,83.87 L47.89,85.09 L36.05,104.78 L35.24,105.31 L33.76,104.69" fill="none" stroke="#295647" stroke-width="1.8" stroke-linejoin="round"/>
<polygon points="34.02,74.97 56.17,84.21 55.25,86.42 49.67,85.50 37.67,80.50 33.09,77.19" fill="#3b6455"/>
<path d="M72.62,91.06 L71.22,92.37 L59.04,117.19 L58.26,117.76 L56.74,117.24 L56.49,116.30 L62.34,89.28 L62.05,87.38Z" fill="#198444"/>
<path d="M72.62,91.06 L71.22,92.37 L59.04,117.19 L58.26,117.76 L56.74,117.24" fill="none" stroke="#295647" stroke-width="1.8" stroke-linejoin="round"/>
<polygon points="56.76,83.11 79.43,90.99 78.64,93.26 73.02,92.68 60.74,88.41 55.97,85.37" fill="#3b6455"/>
<path d="M97.21,98.09 L95.93,99.52 L86.00,125.55 L85.28,126.19 L83.72,125.81 L83.38,124.90 L86.81,97.25 L86.34,95.38Z" fill="#198444"/>
<path d="M97.21,98.09 L95.93,99.52 L86.00,125.55 L85.28,126.19 L83.72,125.81" fill="none" stroke="#295647" stroke-width="1.8" stroke-linejoin="round"/>
<polygon points="80.69,91.61 103.98,97.40 103.40,99.73 97.75,99.66 85.13,96.52 80.11,93.94" fill="#3b6455"/>
<path d="M123.12,101.76 L122.29,103.50 L120.06,130.14 L119.55,130.97 L117.95,131.03 L117.37,130.26 L112.90,103.90 L111.93,102.24Z" fill="#198444"/>
<path d="M123.12,101.76 L122.29,103.50 L120.06,130.14 L119.55,130.97 L117.95,131.03" fill="none" stroke="#295647" stroke-width="1.8" stroke-linejoin="round"/>
<polygon points="105.43,100.21 129.41,99.19 129.51,101.59 124.07,103.12 111.09,103.67 105.54,102.61" fill="#3b6455"/>
<path d="M149.87,100.47 L149.05,102.21 L147.06,129.13 L146.55,129.96 L144.95,130.04 L144.36,129.27 L139.67,102.68 L138.68,101.03Z" fill="#198444"/>
<path d="M149.87,100.47 L149.05,102.21 L147.06,129.13 L146.55,129.96 L144.95,130.04" fill="none" stroke="#295647" stroke-width="1.8" stroke-linejoin="round"/>
<polygon points="132.17,99.06 156.14,97.85 156.26,100.24 150.84,101.82 137.85,102.47 132.30,101.45" fill="#3b6455"/>
<path d="M173.59,96.64 L173.04,98.49 L174.92,124.95 L174.53,125.84 L172.97,126.16 L172.27,125.48 L163.82,100.33 L162.61,98.84Z" fill="#198444"/>
<path d="M173.59,96.64 L173.04,98.49 L174.92,124.95 L174.53,125.84 L172.97,126.16" fill="none" stroke="#295647" stroke-width="1.8" stroke-linejoin="round"/>
<polygon points="155.88,97.84 179.41,93.13 179.88,95.48 174.75,97.84 162.00,100.39 156.35,100.19" fill="#3b6455"/>
<path d="M198.56,89.54 L198.09,91.41 L201.12,117.65 L200.78,118.56 L199.22,118.94 L198.50,118.30 L188.96,93.66 L187.68,92.23Z" fill="#198444"/>
<path d="M198.56,89.54 L198.09,91.41 L201.12,117.65 L200.78,118.56 L199.22,118.94" fill="none" stroke="#295647" stroke-width="1.8" stroke-linejoin="round"/>
<polygon points="180.92,91.53 204.22,85.78 204.79,88.11 199.77,90.69 187.14,93.80 181.49,93.86" fill="#3b6455"/>
<path d="M224.79,79.01 L224.58,80.92 L231.46,107.51 L231.24,108.46 L229.76,109.04 L228.95,108.50 L215.83,84.37 L214.37,83.12Z" fill="#198444"/>
<path d="M224.79,79.01 L224.58,80.92 L231.46,107.51 L231.24,108.46 L229.76,109.04" fill="none" stroke="#295647" stroke-width="1.8" stroke-linejoin="round"/>
<polygon points="207.58,83.33 229.90,74.52 230.78,76.76 226.14,79.98 214.05,84.75 208.46,85.56" fill="#3b6455"/>
<path d="M252.31,68.45 L252.08,70.36 L258.47,96.27 L258.25,97.21 L256.75,97.79 L255.95,97.24 L243.31,73.74 L241.85,72.48Z" fill="#198444"/>
<path d="M252.31,68.45 L252.08,70.36 L258.47,96.27 L258.25,97.21 L256.75,97.79" fill="none" stroke="#295647" stroke-width="1.8" stroke-linejoin="round"/>
<polygon points="235.06,72.64 257.45,64.00 258.31,66.24 253.65,69.44 241.52,74.11 235.92,74.88" fill="#3b6455"/>
<path d="M281.08,59.15 L280.75,61.05 L286.04,88.32 L285.76,89.25 L284.24,89.75 L283.47,89.15 L271.80,63.94 L270.42,62.60Z" fill="#198444"/>
<path d="M281.08,59.15 L280.75,61.05 L286.04,88.32 L285.76,89.25 L284.24,89.75" fill="none" stroke="#295647" stroke-width="1.8" stroke-linejoin="round"/>
<polygon points="263.63,62.38 286.47,55.00 287.20,57.28 282.37,60.21 270.00,64.21 264.37,64.66" fill="#3b6455"/>
<path d="M308.12,54.19 L307.44,55.99 L306.99,79.04 L306.54,79.90 L304.96,80.10 L304.31,79.38 L298.11,57.17 L297.01,55.60Z" fill="#198444"/>
<path d="M308.12,54.19 L307.44,55.99 L306.99,79.04 L306.54,79.90 L304.96,80.10" fill="none" stroke="#295647" stroke-width="1.8" stroke-linejoin="round"/>
<polygon points="290.37,54.13 314.18,51.10 314.48,53.48 309.19,55.47 296.29,57.10 290.67,56.51" fill="#3b6455"/>
<path d="M337.85,54.30 L336.93,55.99 L333.36,82.96 L332.80,83.76 L331.20,83.74 L330.66,82.94 L327.53,55.91 L326.65,54.20Z" fill="#198444"/>
<path d="M337.85,54.30 L336.93,55.99 L333.36,82.96 L332.80,83.76 L331.20,83.74" fill="none" stroke="#295647" stroke-width="1.8" stroke-linejoin="round"/>
<polygon points="320.27,51.85 344.26,52.05 344.24,54.45 338.73,55.70 325.73,55.60 320.25,54.25" fill="#3b6455"/>
<path d="M367.15,56.30 L366.13,57.93 L360.90,84.30 L360.30,85.06 L358.70,84.94 L358.21,84.11 L356.76,57.26 L355.98,55.50Z" fill="#198444"/>
<path d="M367.15,56.30 L366.13,57.93 L360.90,84.30 L360.30,85.06 L358.70,84.94" fill="none" stroke="#295647" stroke-width="1.8" stroke-linejoin="round"/>
<polygon points="349.76,52.76 373.70,54.45 373.53,56.85 367.95,57.76 354.98,56.84 349.59,55.15" fill="#3b6455"/>
<path d="M397.05,61.12 L395.90,62.66 L388.46,88.17 L387.79,88.88 L386.21,88.62 L385.79,87.75 L386.61,61.19 L385.99,59.37Z" fill="#198444"/>
<path d="M397.05,61.12 L395.90,62.66 L388.46,88.17 L387.79,88.88 L386.21,88.62" fill="none" stroke="#295647" stroke-width="1.8" stroke-linejoin="round"/>
<polygon points="380.03,56.09 403.73,59.85 403.36,62.22 397.72,62.64 384.88,60.61 379.65,58.46" fill="#3b6455"/>
<path d="M426.06,65.08 L424.92,66.63 L417.70,91.91 L417.04,92.62 L415.46,92.38 L415.03,91.51 L415.62,65.22 L414.99,63.41Z" fill="#198444"/>
<path d="M426.06,65.08 L424.92,66.63 L417.70,91.91 L417.04,92.62 L415.46,92.38" fill="none" stroke="#295647" stroke-width="1.8" stroke-linejoin="round"/>
<polygon points="409.00,60.18 432.73,63.77 432.38,66.14 426.74,66.60 413.89,64.66 408.65,62.55" fill="#3b6455"/>
<path d="M454.76,71.29 L453.52,72.76 L444.49,98.26 L443.78,98.92 L442.22,98.58 L441.85,97.68 L444.34,70.74 L443.82,68.89Z" fill="#198444"/>
<path d="M454.76,71.29 L453.52,72.76 L444.49,98.26 L443.78,98.92 L442.22,98.58" fill="none" stroke="#295647" stroke-width="1.8" stroke-linejoin="round"/>
<polygon points="438.07,65.27 461.51,70.42 460.99,72.76 455.34,72.85 442.64,70.06 437.55,67.61" fill="#3b6455"/>
<path d="M480.87,79.21 L479.55,80.61 L469.51,104.59 L468.77,105.21 L467.23,104.79 L466.91,103.87 L470.49,78.13 L470.07,76.25Z" fill="#198444"/>
<path d="M480.87,79.21 L479.55,80.61 L469.51,104.59 L468.77,105.21 L467.23,104.79" fill="none" stroke="#295647" stroke-width="1.8" stroke-linejoin="round"/>
<polygon points="464.50,72.34 487.65,78.68 487.02,81.00 481.37,80.80 468.83,77.37 463.87,74.66" fill="#3b6455"/>
<path d="M506.33,89.00 L504.90,90.29 L492.79,113.47 L492.00,114.03 L490.50,113.47 L490.26,112.53 L496.08,87.04 L495.82,85.13Z" fill="#198444"/>
<path d="M506.33,89.00 L504.90,90.29 L492.79,113.47 L492.00,114.03 L490.50,113.47" fill="none" stroke="#295647" stroke-width="1.8" stroke-linejoin="round"/>
<polygon points="490.61,80.76 513.13,89.06 512.30,91.31 506.69,90.63 494.49,86.14 489.78,83.02" fill="#3b6455"/>
<path d="M531.94,102.82 L530.29,103.81 L513.57,125.01 L512.68,125.41 L511.32,124.59 L511.26,123.62 L522.24,98.95 L522.35,97.03Z" fill="#198444"/>
<path d="M531.94,102.82 L530.29,103.81 L513.57,125.01 L512.68,125.41 L511.32,124.59" fill="none" stroke="#295647" stroke-width="1.8" stroke-linejoin="round"/>
<polygon points="518.06,91.76 538.60,104.16 537.36,106.22 531.98,104.49 520.85,97.77 516.82,93.81" fill="#3b6455"/>
<path d="M557.34,119.87 L555.64,120.77 L537.47,141.40 L536.56,141.75 L535.24,140.85 L535.24,139.88 L547.88,115.46 L548.10,113.55Z" fill="#198444"/>
<path d="M557.34,119.87 L555.64,120.77 L537.47,141.40 L536.56,141.75 L535.24,140.85" fill="none" stroke="#295647" stroke-width="1.8" stroke-linejoin="round"/>
<polygon points="544.11,108.04 563.92,121.59 562.57,123.57 557.29,121.54 546.56,114.20 542.76,110.02" fill="#3b6455"/>
<path d="M43.68,502.11 L42.17,503.30 L29.06,524.81 L28.23,525.32 L26.77,524.68 L26.59,523.72 L33.56,499.52 L33.42,497.60Z" fill="#198444"/>
<path d="M43.68,502.11 L42.17,503.30 L29.06,524.81 L28.23,525.32 L26.77,524.68" fill="none" stroke="#295647" stroke-width="1.8" stroke-linejoin="round"/>
<polygon points="28.49,492.92 50.46,502.58 49.49,504.78 43.94,503.75 32.03,498.52 27.52,495.12" fill="#3b6455"/>
<path d="M65.75,509.26 L64.35,510.58 L52.28,535.92 L51.51,536.51 L49.99,535.99 L49.73,535.06 L55.44,507.58 L55.13,505.69Z" fill="#198444"/>
<path d="M65.75,509.26 L64.35,510.58 L52.28,535.92 L51.51,536.51 L49.99,535.99" fill="none" stroke="#295647" stroke-width="1.8" stroke-linejoin="round"/>
<polygon points="49.80,501.46 72.55,509.12 71.78,511.40 66.15,510.88 53.83,506.73 49.04,503.74" fill="#3b6455"/>
<path d="M90.85,517.00 L89.53,518.39 L79.02,543.35 L78.27,543.97 L76.73,543.53 L76.42,542.61 L80.48,515.84 L80.07,513.96Z" fill="#198444"/>
<path d="M90.85,517.00 L89.53,518.39 L79.02,543.35 L78.27,543.97 L76.73,543.53" fill="none" stroke="#295647" stroke-width="1.8" stroke-linejoin="round"/>
<polygon points="74.54,510.01 97.64,516.52 96.99,518.83 91.34,518.59 78.83,515.07 73.89,512.32" fill="#3b6455"/>
<path d="M117.51,520.99 L116.64,522.70 L113.83,549.17 L113.30,549.98 L111.70,550.02 L111.13,549.23 L107.25,522.90 L106.31,521.21Z" fill="#198444"/>
<path d="M117.51,520.99 L116.64,522.70 L113.83,549.17 L113.30,549.98 L111.70,550.02" fill="none" stroke="#295647" stroke-width="1.8" stroke-linejoin="round"/>
<polygon points="99.87,519.05 123.86,518.56 123.91,520.96 118.44,522.37 105.44,522.63 99.91,521.44" fill="#3b6455"/>
<path d="M144.36,518.86 L143.50,520.58 L140.83,547.92 L140.30,548.73 L138.70,548.77 L138.13,547.98 L134.11,520.82 L133.16,519.14Z" fill="#198444"/>
<path d="M144.36,518.86 L143.50,520.58 L140.83,547.92 L140.30,548.73 L138.70,548.77" fill="none" stroke="#295647" stroke-width="1.8" stroke-linejoin="round"/>
<polygon points="126.71,517.00 150.70,516.40 150.76,518.80 145.30,520.24 132.30,520.56 126.77,519.40" fill="#3b6455"/>
<path d="M167.60,514.48 L167.02,516.32 L168.68,543.97 L168.29,544.86 L166.71,545.14 L166.03,544.46 L157.77,518.01 L156.58,516.50Z" fill="#198444"/>
<path d="M167.60,514.48 L167.02,516.32 L168.68,543.97 L168.29,544.86 L166.71,545.14" fill="none" stroke="#295647" stroke-width="1.8" stroke-linejoin="round"/>
<polygon points="149.87,515.39 173.48,511.07 173.91,513.43 168.74,515.70 155.95,518.04 150.30,517.75" fill="#3b6455"/>
<path d="M192.57,507.96 L192.08,509.82 L194.88,536.41 L194.53,537.32 L192.97,537.68 L192.25,537.03 L182.93,511.97 L181.66,510.52Z" fill="#198444"/>
<path d="M192.57,507.96 L192.08,509.82 L194.88,536.41 L194.53,537.32 L192.97,537.68" fill="none" stroke="#295647" stroke-width="1.8" stroke-linejoin="round"/>
<polygon points="174.91,509.74 198.27,504.25 198.82,506.59 193.76,509.11 181.11,512.09 175.45,512.08" fill="#3b6455"/>
<path d="M218.37,497.74 L218.18,499.66 L225.45,526.25 L225.24,527.20 L223.76,527.80 L222.95,527.27 L209.48,503.22 L208.01,501.98Z" fill="#198444"/>
<path d="M218.37,497.74 L218.18,499.66 L225.45,526.25 L225.24,527.20 L223.76,527.80" fill="none" stroke="#295647" stroke-width="1.8" stroke-linejoin="round"/>
<polygon points="201.21,502.28 223.42,493.19 224.33,495.41 219.74,498.70 207.70,503.62 202.12,504.50" fill="#3b6455"/>
<path d="M246.08,487.48 L245.75,489.38 L251.03,516.32 L250.76,517.25 L249.24,517.75 L248.47,517.16 L236.82,492.30 L235.43,490.97Z" fill="#198444"/>
<path d="M246.08,487.48 L245.75,489.38 L251.03,516.32 L250.76,517.25 L249.24,517.75" fill="none" stroke="#295647" stroke-width="1.8" stroke-linejoin="round"/>
<polygon points="228.63,490.77 251.45,483.31 252.19,485.59 247.37,488.54 235.01,492.58 229.38,493.05" fill="#3b6455"/>
<path d="M274.88,477.73 L274.55,479.63 L279.78,506.32 L279.51,507.25 L277.99,507.75 L277.22,507.16 L265.62,482.56 L264.23,481.22Z" fill="#198444"/>
<path d="M274.88,477.73 L274.55,479.63 L279.78,506.32 L279.51,507.25 L277.99,507.75" fill="none" stroke="#295647" stroke-width="1.8" stroke-linejoin="round"/>
<polygon points="257.44,481.03 280.24,473.55 280.99,475.83 276.17,478.78 263.82,482.83 258.18,483.31" fill="#3b6455"/>
<path d="M456.45,488.88 L455.09,490.24 L444.03,514.64 L443.26,515.24 L441.74,514.76 L441.45,513.84 L446.11,487.46 L445.75,485.57Z" fill="#198444"/>
<path d="M456.45,488.88 L455.09,490.24 L444.03,514.64 L443.26,515.24 L441.74,514.76" fill="none" stroke="#295647" stroke-width="1.8" stroke-linejoin="round"/>
<polygon points="440.32,481.48 463.25,488.58 462.54,490.87 456.90,490.49 444.48,486.64 439.61,483.77" fill="#3b6455"/>
<path d="M482.21,496.85 L480.92,498.28 L471.50,522.05 L470.78,522.69 L469.22,522.31 L468.89,521.40 L471.81,495.99 L471.35,494.12Z" fill="#198444"/>
<path d="M482.21,496.85 L480.92,498.28 L471.50,522.05 L470.78,522.69 L469.22,522.31" fill="none" stroke="#295647" stroke-width="1.8" stroke-linejoin="round"/>
<polygon points="465.70,490.33 488.98,496.17 488.39,498.50 482.74,498.42 470.13,495.26 465.11,492.66" fill="#3b6455"/>
<path d="M508.74,506.60 L507.25,507.83 L494.05,531.03 L493.24,531.56 L491.76,530.94 L491.56,530.00 L498.57,504.24 L498.38,502.33Z" fill="#198444"/>
<path d="M508.74,506.60 L507.25,507.83 L494.05,531.03 L493.24,531.56 L491.76,530.94" fill="none" stroke="#295647" stroke-width="1.8" stroke-linejoin="round"/>
<polygon points="493.34,497.76 515.53,506.92 514.61,509.13 509.03,508.24 497.02,503.28 492.43,499.98" fill="#3b6455"/>
<path d="M533.86,521.33 L532.18,522.28 L515.32,542.55 L514.42,542.93 L513.08,542.07 L513.04,541.10 L524.25,517.23 L524.41,515.32Z" fill="#198444"/>
<path d="M533.86,521.33 L532.18,522.28 L515.32,542.55 L514.42,542.93 L513.08,542.07" fill="none" stroke="#295647" stroke-width="1.8" stroke-linejoin="round"/>
<polygon points="520.24,509.94 540.49,522.82 539.20,524.85 533.86,522.99 522.90,516.01 518.95,511.97" fill="#3b6455"/>
<path d="M559.41,537.49 L557.72,538.42 L540.32,558.82 L539.42,559.19 L538.08,558.31 L538.06,557.34 L549.86,533.26 L550.04,531.34Z" fill="#198444"/>
<path d="M559.41,537.49 L557.72,538.42 L540.32,558.82 L539.42,559.19 L538.08,558.31" fill="none" stroke="#295647" stroke-width="1.8" stroke-linejoin="round"/>
<polygon points="545.96,525.91 566.02,539.08 564.70,541.09 559.39,539.16 548.52,532.02 544.64,527.92" fill="#3b6455"/>
<use href="#bb" transform="translate(79.5,183.2) scale(1.04,0.90)"/>
<use href="#bb" transform="translate(193.5,179.7) scale(1.04,0.90)"/>
<use href="#bb" transform="translate(299.5,137.2) scale(1.04,0.90)"/>
<use href="#bb" transform="translate(63.0,457.2) scale(1.04,0.90)"/>
<use href="#bb" transform="translate(156.0,456.2) scale(1.04,0.90)"/>
<use href="#bb" transform="translate(255.0,435.2) scale(1.04,0.90)"/>
<use href="#bb" transform="translate(513.0,456.7) scale(1.04,0.90)"/>
<use href="#bs" transform="translate(401.8,134.3) scale(0.686,0.585)"/>
<use href="#bs" transform="translate(477.8,144.8) scale(0.686,0.585)"/>
<use href="#bs" transform="translate(545.0,179.3) scale(0.686,0.585)"/>
</svg>
</body></html>
